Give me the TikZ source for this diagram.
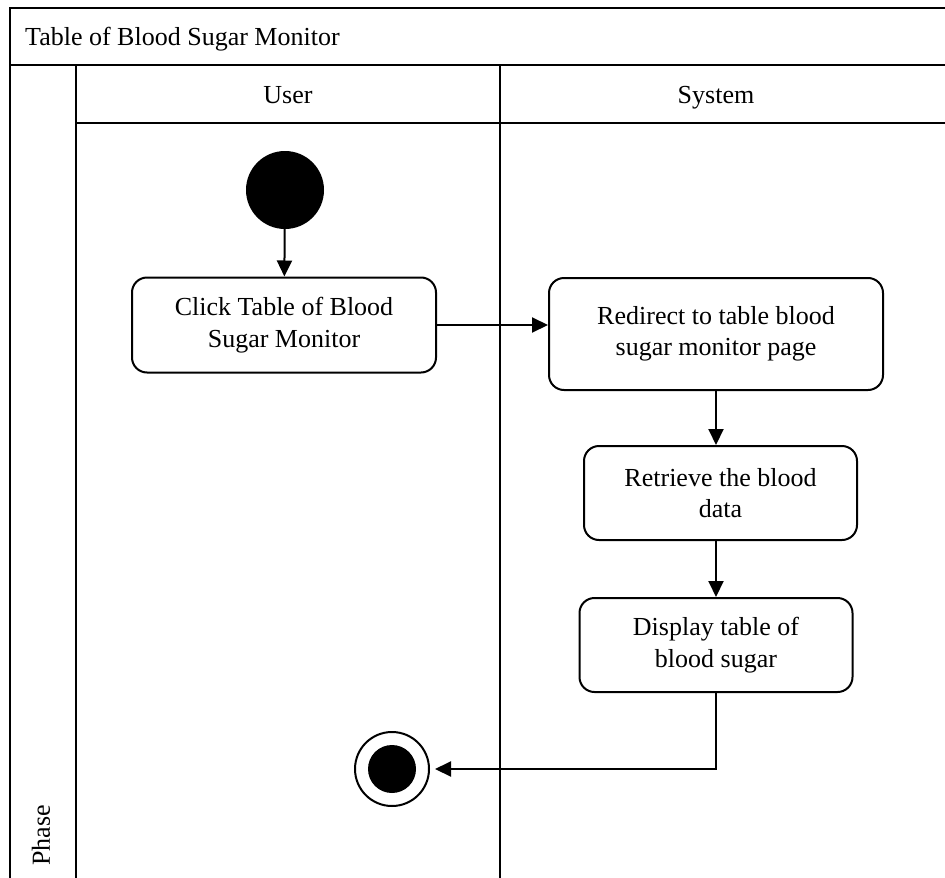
\documentclass[tikz,border=0pt]{standalone}
\usepackage{fontspec}
\setmainfont{Liberation Serif}
\usetikzlibrary{arrows.meta}

\tikzset{
  lane/.style={line width=2pt},
  action/.style={draw, line width=2pt, rounded corners=15pt, align=center,
    font=\fontsize{26}{31.5}\selectfont, inner sep=0pt},
  flow/.style={line width=2pt, -{Triangle[length=16pt,width=15pt]}},
  label/.style={font=\fontsize{26}{31.5}\selectfont, inner sep=0pt},
}

\begin{document}
\begin{tikzpicture}[x=1pt,y=-1pt]
  \useasboundingbox (0,0) rectangle (945,878);
  \clip (0,0) rectangle (945,878);

  % swimlane frame
  \draw[lane] (10,890) -- (10,8) -- (960,8);
  \draw[lane] (10,65) -- (960,65);
  \draw[lane] (76,123) -- (960,123);
  \draw[lane] (76,65) -- (76,890);
  \draw[lane] (500,65) -- (500,890);

  % titles
  \node[label, anchor=base west] (title) at (25,45) {Table of Blood Sugar Monitor};
  \node[label, anchor=base] (user) at (288,103) {User};
  \node[label, anchor=base] (system) at (716,103) {System};
  \node[label, rotate=90, anchor=west] (phase) at (41,866) {Phase};

  % start and end
  \node[circle, fill=black, minimum size=78pt, inner sep=0pt] (start) at (285,190) {};
  \node[circle, draw, line width=2pt, minimum size=74pt, inner sep=0pt] (finish) at (392,769) {};
  \node[circle, fill=black, minimum size=48pt, inner sep=0pt] (finishdot) at (392,769) {};

  % actions
  \node[action, minimum width=304pt, minimum height=95pt] (click) at (284,325) {Click Table of Blood\\Sugar Monitor};
  \node[action, minimum width=334pt, minimum height=112pt] (redirect) at (716,334) {Redirect to table blood\\sugar monitor page};
  \node[action, minimum width=273pt, minimum height=94pt] (retrieve) at (720.5,493) {Retrieve the blood\\data};
  \node[action, minimum width=273pt, minimum height=94pt] (display) at (716,645) {Display table of\\blood sugar};

  % flows
  \draw[flow] (start) -- (click);
  \draw[flow] (click.east) -- (redirect.west |- click.east);
  \draw[flow] (redirect.south) -- (redirect.south |- retrieve.north);
  \draw[flow] (redirect.south |- retrieve.south) -- (display.north);
  \draw[flow, shorten >=5pt] (display.south) -- (display.south |- finish.east) -- (finish.east);
\end{tikzpicture}
\end{document}
